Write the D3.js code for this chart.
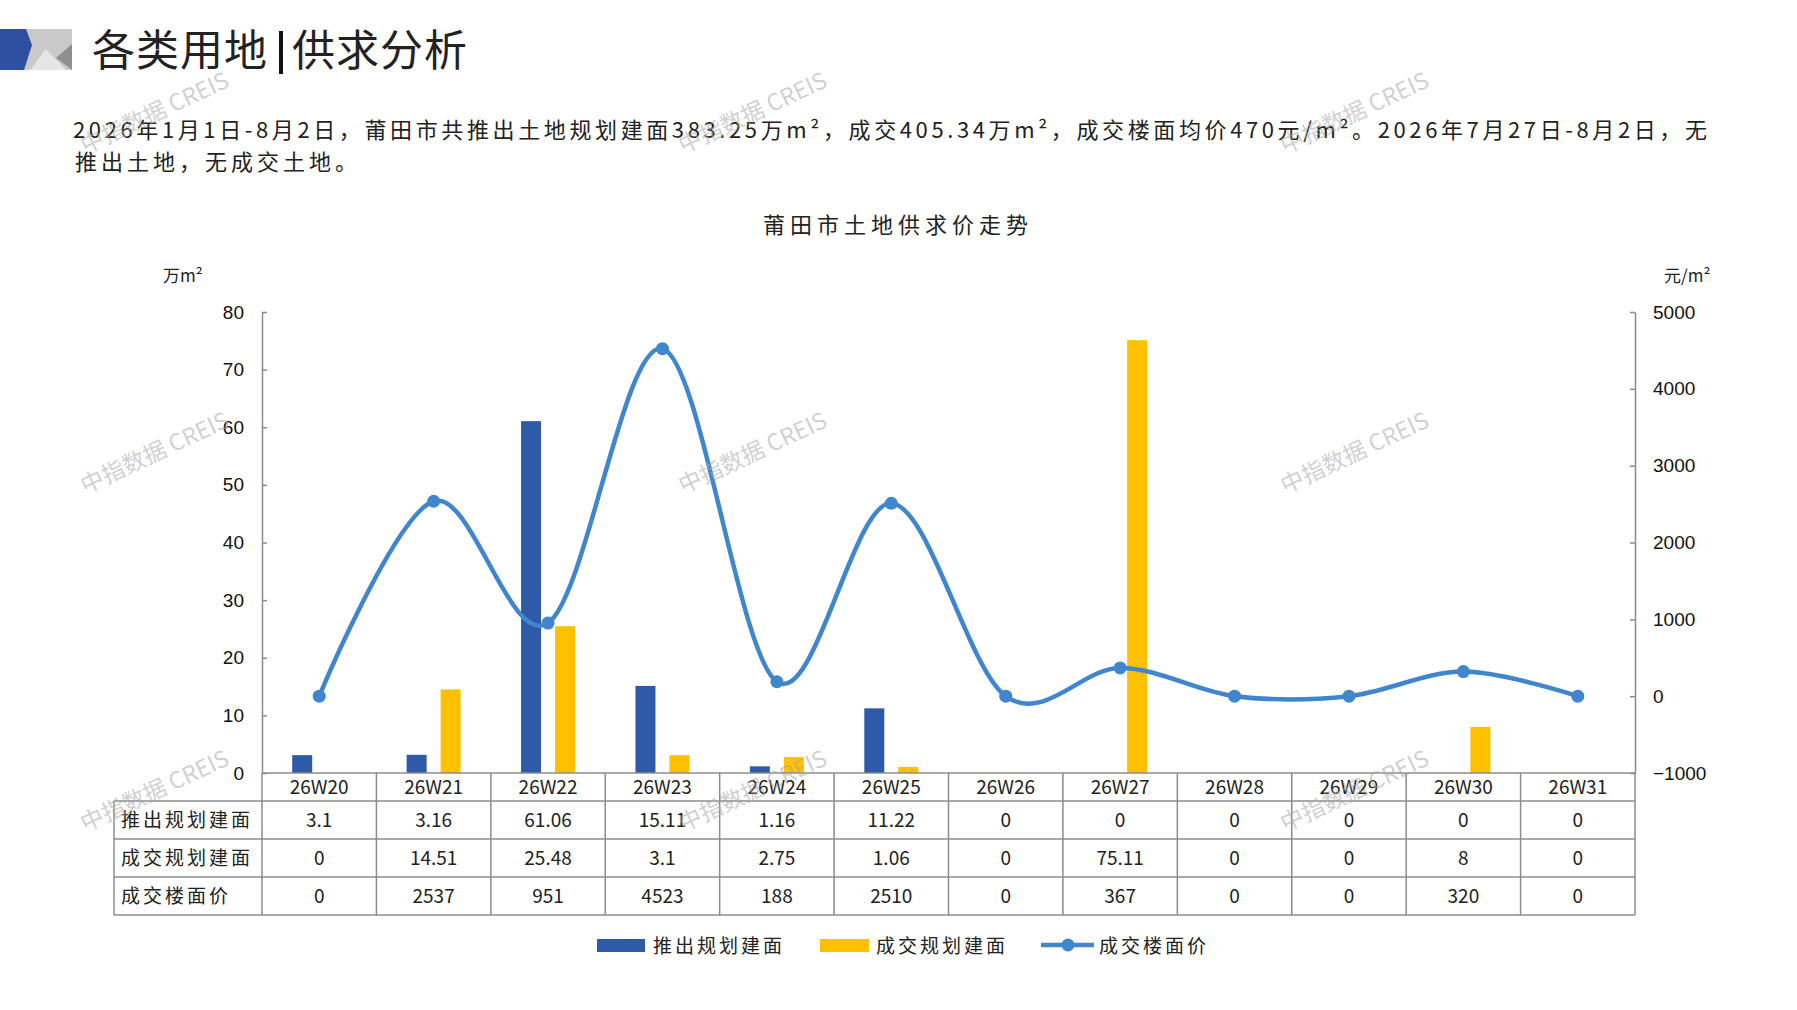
<!DOCTYPE html>
<html>
<head>
<meta charset="utf-8">
<script src="https://cdn.jsdelivr.net/npm/d3@7"></script>
<style>
  body { margin: 0; background: #fff; }
  text { font-family: "Noto Sans CJK SC", "Noto Sans", sans-serif; fill: #222; }
  .tick text { font-family: "Liberation Sans", Arial, sans-serif; font-size: 19px; fill: #111; }
</style>
</head>
<body>
<div id="chart"></div>
<script>
// data
var weeks      = ["26W20", "26W21", "26W22", "26W23", "26W24", "26W25", "26W26", "26W27", "26W28", "26W29", "26W30", "26W31"];
var supplyArea = [3.1, 3.16, 61.06, 15.11, 1.16, 11.22, 0, 0, 0, 0, 0, 0];
var dealArea   = [0, 14.51, 25.48, 3.1, 2.75, 1.06, 0, 75.11, 0, 0, 8, 0];
var dealPrice  = [0, 2537, 951, 4523, 188, 2510, 0, 367, 0, 0, 320, 0];
var seriesNames = ["推出规划建面", "成交规划建面", "成交楼面价"];
var leftTicks  = [0, 10, 20, 30, 40, 50, 60, 70, 80];
var rightTicks = [-1000, 0, 1000, 2000, 3000, 4000, 5000];

var pageTitleA = "各类用地";
var pageTitleB = "供求分析";
var summary1 = "2026年1月1日-8月2日，莆田市共推出土地规划建面383.25万m²，成交405.34万m²，成交楼面均价470元/m²。2026年7月27日-8月2日，无";
var summary2 = "推出土地，无成交土地。";
var chartTitle = "莆田市土地供求价走势";
var leftUnit = "万m²";
var rightUnit = "元/m²";
var watermark = "中指数据 CREIS";

var W = 1797, H = 1010;
var blue = "#2E5AA7", yellow = "#FFC000", lineBlue = "#3F86CE", grid = "#8c8c8c";

var svg = d3.select("#chart").append("svg")
    .attr("width", W)
    .attr("height", H);

// header logo
svg.append("rect").attr("x", 0).attr("y", 29).attr("width", 72).attr("height", 41).attr("fill", "#c9c9c9");
svg.append("polygon").attr("points", "30,70 46,49 66,70").attr("fill", "#e6e6e6");
svg.append("polygon").attr("points", "72,44 56,58 72,70").attr("fill", "#8f8f8f");
svg.append("polygon").attr("points", "0,29 26,29 32,45 24,70 0,70").attr("fill", "#2F50A0");

// page title
svg.append("text").attr("x", 92).attr("y", 66).attr("font-size", 43).attr("letter-spacing", 1).text(pageTitleA);
svg.append("rect").attr("x", 279).attr("y", 31).attr("width", 4).attr("height", 43).attr("fill", "#111");
svg.append("text").attr("x", 292).attr("y", 66).attr("font-size", 43).attr("letter-spacing", 1).text(pageTitleB);

// summary paragraph
svg.append("text").attr("x", 73).attr("y", 138).attr("font-size", 22)
    .attr("textLength", 1634).attr("lengthAdjust", "spacing").text(summary1);
svg.append("text").attr("x", 75).attr("y", 170).attr("font-size", 22).attr("letter-spacing", 4).text(summary2);

// chart title and units
svg.append("text").attr("x", 898).attr("y", 233).attr("font-size", 22).attr("letter-spacing", 5)
    .attr("text-anchor", "middle").attr("fill", "#333").text(chartTitle);
svg.append("text").attr("x", 163).attr("y", 282).attr("font-size", 17).text(leftUnit);
svg.append("text").attr("x", 1664).attr("y", 282).attr("font-size", 17).text(rightUnit);

// scales
var x = d3.scaleBand().domain(weeks).range([262, 1635]);
var yL = d3.scaleLinear().domain([0, 80]).range([773, 312]);
var yR = d3.scaleLinear().domain([-1000, 5000]).range([773, 312]);
var cx = function(i) { return x(weeks[i]) + x.bandwidth() / 2; };

// axes
var gl = svg.append("g").attr("transform", "translate(262,0)")
    .call(d3.axisLeft(yL).tickValues(leftTicks).tickSizeInner(-5).tickSizeOuter(0).tickPadding(18));
var gr = svg.append("g").attr("transform", "translate(1635,0)")
    .call(d3.axisRight(yR).tickValues(rightTicks).tickFormat(d3.format("d"))
        .tickSizeInner(-5).tickSizeOuter(0).tickPadding(18));
[gl, gr].forEach(function(g) {
    g.select(".domain").attr("stroke", grid).attr("stroke-width", 1.5);
    g.selectAll(".tick line").attr("stroke", grid).attr("stroke-width", 1.5);
});
gr.selectAll(".tick text").text(function(d) { return d < 0 ? "\u2212" + Math.abs(d) : d; });

// bars
svg.selectAll("rect.supply")
    .data(supplyArea)
    .enter()
    .append("rect")
    .attr("class", "supply")
    .attr("x", function(d, i) { return cx(i) - 27; })
    .attr("y", function(d) { return yL(d); })
    .attr("width", 20)
    .attr("height", function(d) { return yL(0) - yL(d); })
    .attr("fill", blue);

svg.selectAll("rect.deal")
    .data(dealArea)
    .enter()
    .append("rect")
    .attr("class", "deal")
    .attr("x", function(d, i) { return cx(i) + 7; })
    .attr("y", function(d) { return yL(d); })
    .attr("width", 20)
    .attr("height", function(d) { return yL(0) - yL(d); })
    .attr("fill", yellow);

// price line
var line = d3.line()
    .x(function(d, i) { return cx(i); })
    .y(function(d) { return yR(d); })
    .curve(d3.curveCardinal.tension(0));

svg.append("path")
    .datum(dealPrice)
    .attr("d", line)
    .attr("fill", "none")
    .attr("stroke", lineBlue)
    .attr("stroke-width", 4.5);

svg.selectAll("circle.price")
    .data(dealPrice)
    .enter()
    .append("circle")
    .attr("class", "price")
    .attr("cx", function(d, i) { return cx(i); })
    .attr("cy", function(d) { return yR(d); })
    .attr("r", 6.5)
    .attr("fill", lineBlue);

// data table
var tLeft = 114, tRight = 1635;
var rowY = [773, 801, 839, 877, 915];
var table = svg.append("g").attr("stroke", grid).attr("stroke-width", 1.5);
rowY.forEach(function(y, i) {
    table.append("line").attr("x1", i === 0 ? 262 : tLeft).attr("x2", tRight).attr("y1", y).attr("y2", y);
});
table.append("line").attr("x1", tLeft).attr("x2", tLeft).attr("y1", rowY[1]).attr("y2", rowY[4]);
weeks.concat([null]).forEach(function(w, i) {
    var xx = i < weeks.length ? x(w) : x.range()[1];
    table.append("line").attr("x1", xx).attr("x2", xx).attr("y1", rowY[0]).attr("y2", rowY[4]);
});

svg.selectAll("text.week")
    .data(weeks)
    .enter()
    .append("text")
    .attr("class", "week")
    .attr("x", function(d, i) { return cx(i); })
    .attr("y", (rowY[0] + rowY[1]) / 2 + 7)
    .attr("text-anchor", "middle")
    .attr("font-size", 19)
    .text(function(d) { return d; });

var rows = [supplyArea, dealArea, dealPrice];
rows.forEach(function(vals, r) {
    var yMid = (rowY[r + 1] + rowY[r + 2]) / 2 + 7;
    svg.append("text").attr("x", 121).attr("y", yMid).attr("font-size", 19).attr("letter-spacing", 3)
        .text(seriesNames[r]);
    svg.selectAll("text.row" + r)
        .data(vals)
        .enter()
        .append("text")
        .attr("class", "row" + r)
        .attr("x", function(d, i) { return cx(i); })
        .attr("y", yMid)
        .attr("text-anchor", "middle")
        .attr("font-size", 19)
        .text(function(d) { return String(d); });
});

// legend
var lg = svg.append("g");
lg.append("rect").attr("x", 597).attr("y", 939).attr("width", 48).attr("height", 13).attr("fill", blue);
lg.append("text").attr("x", 653).attr("y", 953).attr("font-size", 19).attr("letter-spacing", 3).text(seriesNames[0]);
lg.append("rect").attr("x", 820).attr("y", 939).attr("width", 49).attr("height", 13).attr("fill", yellow);
lg.append("text").attr("x", 876).attr("y", 953).attr("font-size", 19).attr("letter-spacing", 3).text(seriesNames[1]);
lg.append("line").attr("x1", 1041).attr("x2", 1094).attr("y1", 945).attr("y2", 945)
    .attr("stroke", lineBlue).attr("stroke-width", 4.5);
lg.append("circle").attr("cx", 1068).attr("cy", 945).attr("r", 6.5).attr("fill", lineBlue);
lg.append("text").attr("x", 1099).attr("y", 953).attr("font-size", 19).attr("letter-spacing", 3).text(seriesNames[2]);

// watermarks
var wmX = [158, 756, 1358], wmY = [120, 460, 798];
wmY.forEach(function(wy) {
    wmX.forEach(function(wx) {
        svg.append("text")
            .attr("transform", "translate(" + wx + "," + wy + ") rotate(-25)")
            .attr("text-anchor", "middle")
            .attr("font-size", 23)
            .style("fill", "#a8a8a8")
            .attr("fill-opacity", 0.55)
            .text(watermark);
    });
});
</script>
</body>
</html>
